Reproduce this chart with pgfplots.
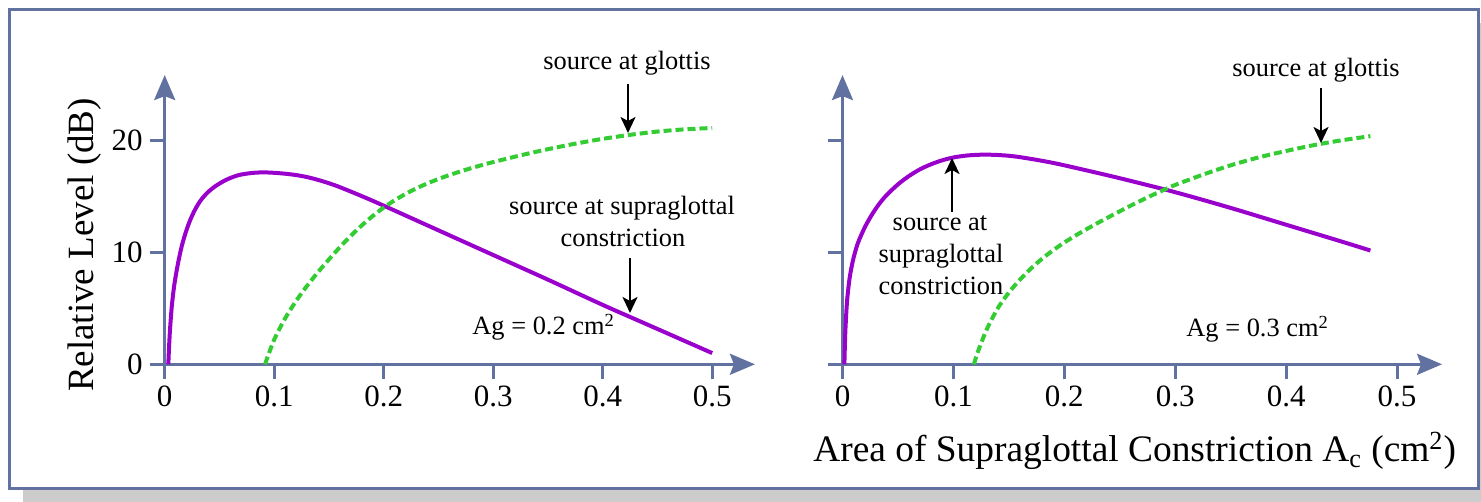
\documentclass[border=0pt]{standalone}
\usepackage{fontspec}
\setmainfont{Liberation Serif}
\usepackage{pgfplots}
\pgfplotsset{compat=1.18}
\usetikzlibrary{arrows.meta}
\definecolor{axcol}{RGB}{98,114,160}
\definecolor{purp}{RGB}{153,0,204}
\definecolor{grn}{RGB}{51,204,51}
\definecolor{shad}{RGB}{204,204,204}
\newcommand\ann{\fontsize{13.2}{16}\selectfont}
\pgfplotsset{myax/.style={
  axis lines=left,
  axis line style={draw=axcol, line width=1.5pt, -{Stealth[length=12.5pt,width=10.5pt,inset=2pt]}},
  anchor=south west,
  xmin=0, ymin=0, ymax=25.8,
  y=5.605pt,
  enlargelimits=false,
  clip=false,
  xtick={0,0.1,0.2,0.3,0.4,0.5},
  ytick={0,10,20},
  tick align=outside,
  major tick length=7.5pt,
  tick style={draw=axcol, line width=1.5pt},
  ticklabel style={font=\fontsize{15.5}{18}\selectfont},
  /pgf/number format/assume math mode=true,
  xticklabel={\pgfmathprintnumber[fixed,precision=1]{\tick}},
}}
\begin{document}
\begin{tikzpicture}
\useasboundingbox (0,0) rectangle (740.5pt,251pt);
\fill[shad] (11.5pt,0pt) rectangle (740.5pt,239.5pt);
\draw[axcol, line width=1.5pt, fill=white] (4.75pt,246.25pt) rectangle (739pt,6.75pt);

% left panel
\begin{axis}[myax, at={(82.35pt,68.85pt)}, x=547.5pt, xmax=0.539]
\addplot[purp, line width=2pt, smooth] coordinates {
(0.0033,0) (0.004,1.6) (0.005,3.3) (0.0065,5.2) (0.0085,6.9) (0.011,8.4)
(0.0135,9.65) (0.016,10.7) (0.019,11.7) (0.022,12.55) (0.025,13.25) (0.028,13.85)
(0.032,14.5) (0.036,15.0) (0.04,15.4) (0.045,15.8) (0.05,16.12) (0.055,16.4)
(0.06,16.62) (0.065,16.8) (0.07,16.93) (0.08,17.07)
(0.09,17.12) (0.10,17.08) (0.11,17.0) (0.12,16.88) (0.13,16.7) (0.14,16.45)
(0.15,16.15) (0.16,15.8) (0.18,15.0) (0.2,14.15) (0.25,11.95) (0.3,9.75)
(0.35,7.55) (0.4,5.3) (0.45,3.15) (0.5,1.0)};
\addplot[grn, line width=2pt, smooth, dash pattern=on 4pt off 2pt] coordinates {
(0.0916,0) (0.1,2.2) (0.11,4.1) (0.12,5.65) (0.13,7.0) (0.14,8.22)
(0.15,9.36) (0.16,10.45) (0.17,11.46) (0.18,12.39) (0.19,13.23) (0.2,13.98)
(0.21,14.63) (0.22,15.2) (0.23,15.7) (0.24,16.14) (0.25,16.53) (0.26,16.88)
(0.27,17.2) (0.28,17.5) (0.29,17.78) (0.3,18.04) (0.325,18.64) (0.35,19.19)
(0.375,19.68) (0.4,20.11) (0.425,20.47) (0.45,20.76) (0.475,20.96) (0.5,21.08)};
\end{axis}

% right panel
\begin{axis}[myax, at={(421.25pt,68.85pt)}, x=554.5pt, xmax=0.5406, yticklabels={}]
\addplot[purp, line width=2pt, smooth] coordinates {
(0.0017,0) (0.0025,2.8) (0.004,5.5) (0.006,7.4) (0.008,8.6) (0.01,9.5)
(0.0125,10.4) (0.015,11.1) (0.02,12.2) (0.025,13.1) (0.03,13.88) (0.035,14.55)
(0.04,15.12) (0.05,16.05) (0.06,16.8) (0.07,17.4)
(0.08,17.85) (0.09,18.2) (0.1,18.45) (0.11,18.6) (0.12,18.68) (0.13,18.7)
(0.14,18.67) (0.15,18.6) (0.16,18.48) (0.18,18.15) (0.2,17.75) (0.25,16.6)
(0.3,15.35) (0.35,13.95) (0.4,12.45) (0.45,10.95) (0.476,10.15)};
\addplot[grn, line width=2pt, smooth, dash pattern=on 4pt off 2pt] coordinates {
(0.1185,0) (0.122,1.1) (0.13,3.1) (0.14,5.0) (0.15,6.4) (0.16,7.55)
(0.17,8.55) (0.18,9.42) (0.19,10.18) (0.2,10.86) (0.21,11.48) (0.22,12.05)
(0.23,12.6) (0.24,13.13) (0.25,13.65) (0.26,14.16) (0.27,14.65) (0.28,15.12)
(0.29,15.57) (0.3,16.0) (0.325,16.92) (0.35,17.75) (0.375,18.45) (0.4,19.03)
(0.425,19.55) (0.45,19.98) (0.476,20.35)};
\end{axis}

\begin{scope}[x=0.5pt,y=-0.5pt,yshift=251pt]
\node[rotate=90, anchor=base, font=\fontsize{18.5}{22}\selectfont] at (93,245) {Relative Level (dB)};
\node[anchor=base west, inner sep=0pt, font=\fontsize{18.7}{22}\selectfont] at (813,462) {Area of Supraglottal Constriction A\textsubscript{c} (cm\textsuperscript{2})};
% left annotations
\node[anchor=base, font=\ann] at (627,70) {source at glottis};
\draw[-{Stealth[length=8pt,width=7.5pt,inset=2pt]}, line width=1.2pt] (628,84) -- (628,133);
\node[anchor=base, font=\ann] at (622,215) {source at supraglottal};
\node[anchor=base, font=\ann] at (623,247) {constriction};
\draw[-{Stealth[length=8pt,width=7.5pt,inset=2pt]}, line width=1.2pt] (630,258) -- (630,313);
\node[anchor=base west, font=\ann, inner sep=0pt] at (472,335) {Ag = 0.2 cm\textsuperscript{2}};
% right annotations
\node[anchor=base, font=\ann] at (1316,77) {source at glottis};
\draw[-{Stealth[length=8pt,width=7.5pt,inset=2pt]}, line width=1.2pt] (1321,88) -- (1321,143);
\node[anchor=base, font=\ann] at (940,231) {source at};
\node[anchor=base, font=\ann] at (941,263) {supraglottal};
\node[anchor=base, font=\ann] at (941,295) {constriction};
\draw[-{Stealth[length=8pt,width=7.5pt,inset=2pt]}, line width=1.2pt] (952,212) -- (952,158);
\node[anchor=base west, font=\ann, inner sep=0pt] at (1186,337) {Ag = 0.3 cm\textsuperscript{2}};
\end{scope}
\end{tikzpicture}
\end{document}
